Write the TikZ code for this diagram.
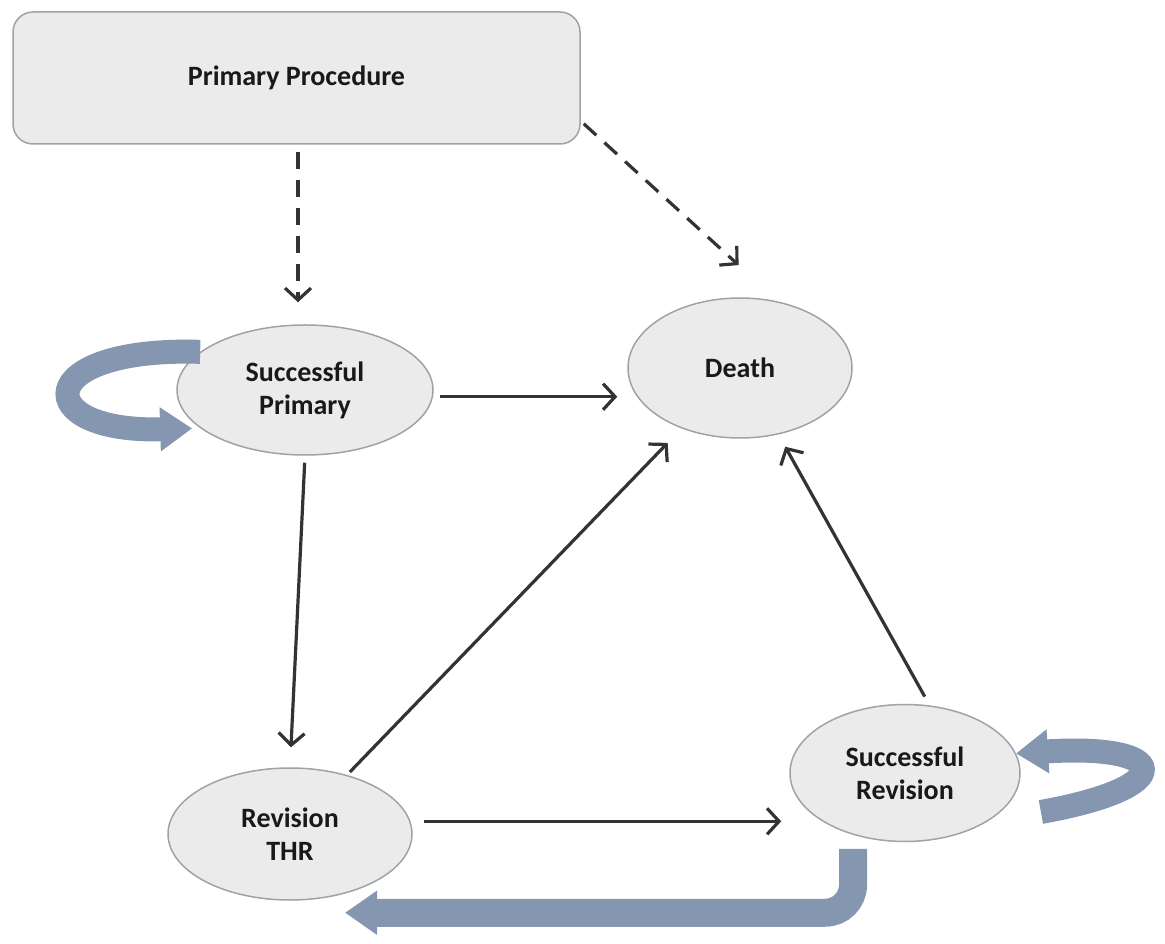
\documentclass[tikz,border=0pt]{standalone}
\usepackage{fontspec}
\setmainfont{Carlito}
\usetikzlibrary{shapes.geometric,arrows.meta,calc}

\definecolor{boxfill}{HTML}{EBEBEB}
\definecolor{boxline}{HTML}{9EA3A8}
\definecolor{arrline}{HTML}{333333}
\definecolor{bandblue}{HTML}{8496B0}

\begin{document}
\begin{tikzpicture}[x=1pt,y=1pt,
    state/.style={ellipse,draw=boxline,line width=1.5pt,fill=boxfill,inner sep=0pt,
      align=center,font=\fontsize{28}{33}\selectfont\bfseries,text=black!90},
    arr/.style={draw=arrline,line width=3.2pt,-{Straight Barb[length=12pt,width=26pt]}},
    dasharr/.style={arr,dash pattern=on 17pt off 11pt},
    band/.style={draw=bandblue,line width=24pt,-{Triangle[length=32pt,width=42pt]}}]
  \useasboundingbox (0,0) rectangle (1165,943);

  \node (pp) at (296.5,865) [draw=boxline,line width=1.5pt,fill=boxfill,rounded corners=20pt,
    minimum width=567pt,minimum height=132pt,font=\fontsize{28}{33}\selectfont\bfseries,
    text=black!90] {Primary Procedure};

%% states, sizes (px)
  \node (sp)    at (305,553) [state,minimum width=256pt,minimum height=130pt] {Successful\\Primary};
  \node (death) at (740,575) [state,minimum width=224pt,minimum height=140pt] {Death};
  \node (rt)    at (290,109) [state,minimum width=244pt,minimum height=132pt] {Revision\\THR};
  \node (sr)    at (905,170) [state,minimum width=230pt,minimum height=137pt] {Successful\\Revision};

%% dashed entries
  \draw[dasharr,shorten <=7pt,shorten >=22pt] ($(pp.south -| sp.north)+(-7,0)$) -- ($(sp.north)+(-7,0)$);
  \draw[dasharr,shorten >=54pt] ($(pp.south east)+(3,21)$) -- (death.60);

%% transitions
  \draw[arr,shorten <=7pt,shorten >=10pt] (sp.-3) -- (sp.-3 -| death.west);
  \draw[arr,shorten <=7pt,shorten >=20pt] (sp.south) -- (rt.north);
  \draw[arr,shorten <=4pt,shorten >=20pt] (rt) -- (death);
  \draw[arr,shorten <=13pt,shorten >=8pt] (rt.6) -- (rt.6 -| sr.west);
  \draw[arr,shorten <=10pt,shorten >=14pt] (sr.70) -- (death.-60);

%% loops and way back
  \draw[band,shorten >=8pt] (sp.160) .. controls +(-170,5) and +(-170,-5) .. (sp.200);
  \draw[band] ($(sr.-20)+(37,-3)$) .. controls +(140,25) and +(155,10) .. (sr.10);
  \draw[band,line width=28pt,rounded corners=28pt,shorten <=14pt] (sr.-130) |- ($(rt.south)+(55,-12)$);

\end{tikzpicture}
\end{document}
